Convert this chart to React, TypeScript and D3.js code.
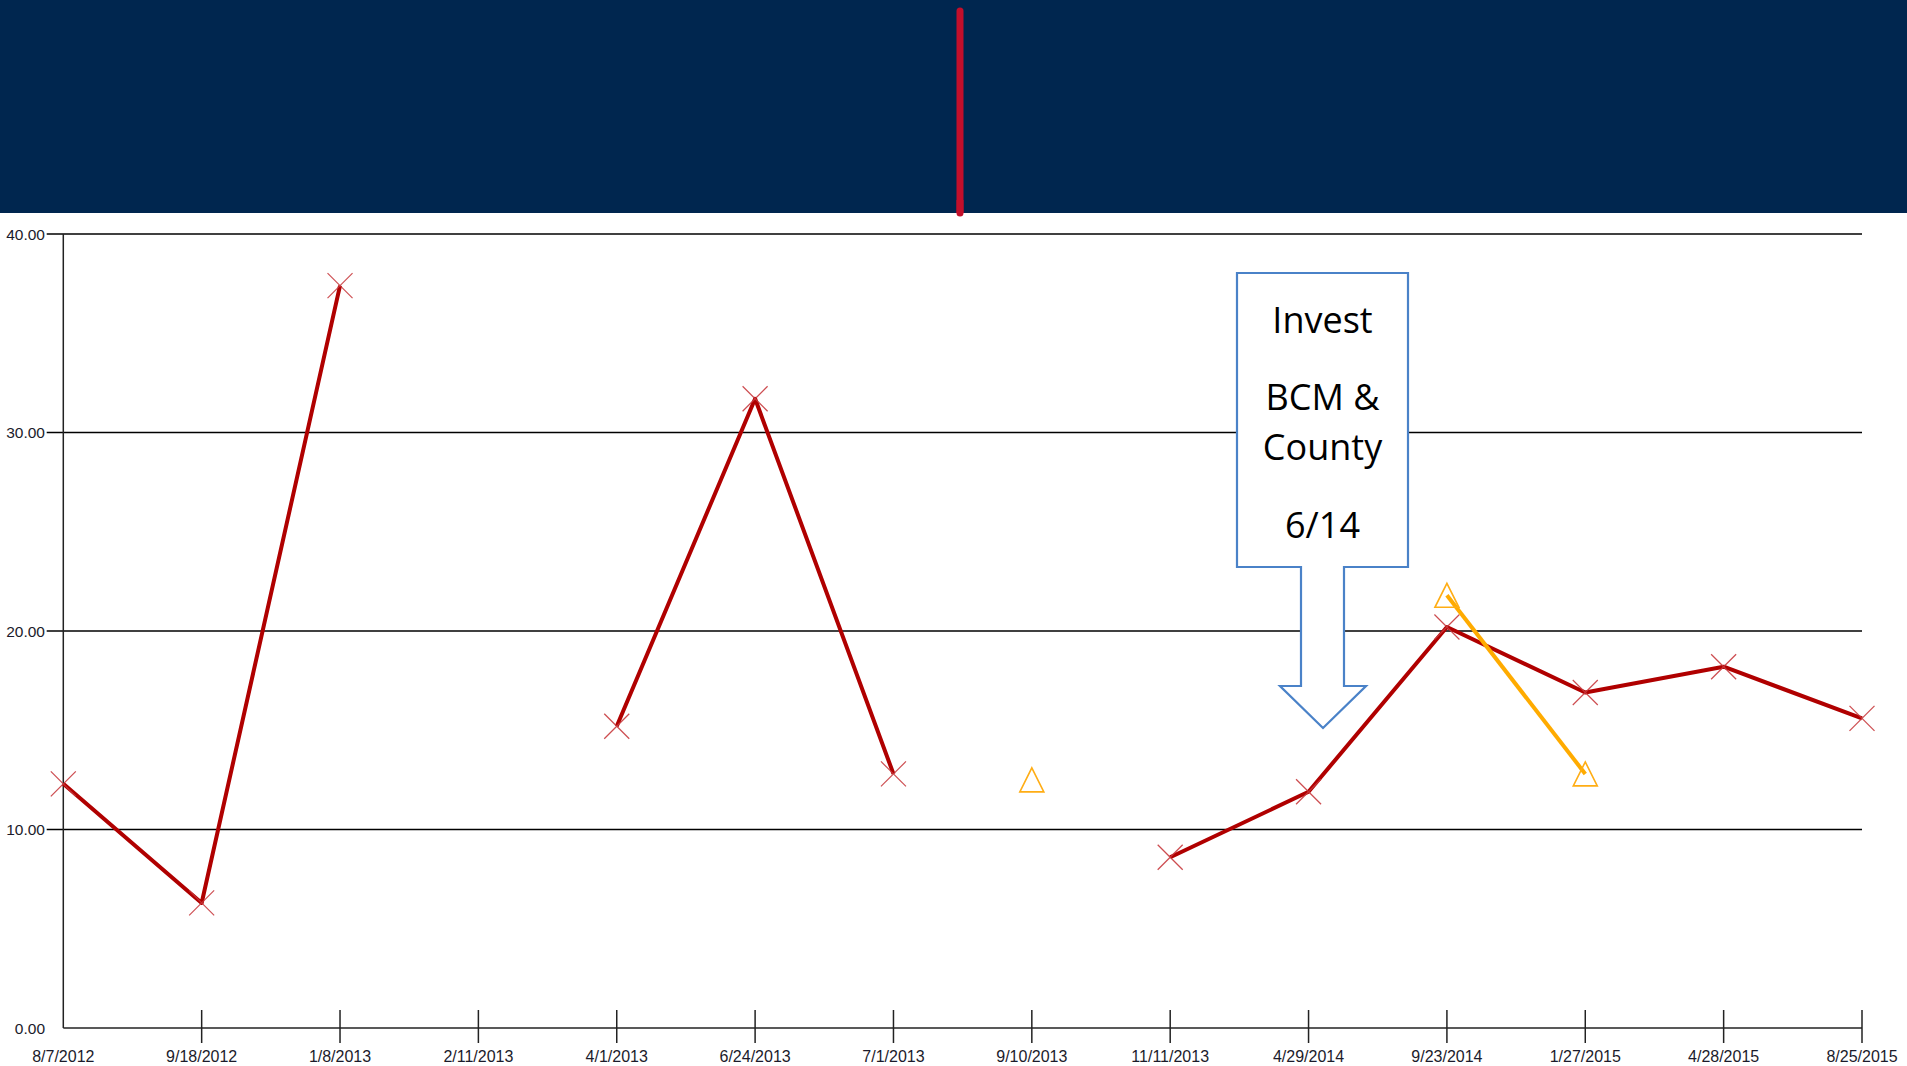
import React from "react";
import * as d3 from "d3";

// Visit dates (categorical x axis)
const categories: string[] = [
  "8/7/2012", "9/18/2012", "1/8/2013", "2/11/2013", "4/1/2013", "6/24/2013", "7/1/2013",
  "9/10/2013", "11/11/2013", "4/29/2014", "9/23/2014", "1/27/2015", "4/28/2015", "8/25/2015",
];

// Main series (dark red line, x markers)
const seriesMain: (number | null)[] = [
  12.3, 6.3, 37.4, null, 15.2, 31.7, 12.8, null, 8.6, 11.9, 20.2, 16.9, 18.2, 15.6,
];

// Secondary series (amber line, triangle markers)
const seriesAlt: (number | null)[] = [
  null, null, null, null, null, null, null, 12.5, null, null, 21.8, 12.8, null, null,
];

const yTicks: number[] = [0, 10, 20, 30, 40];

const calloutLines: string[] = ["Invest", "BCM &", "County", "6/14"];

const W = 1907;
const H = 1066;

export default function App() {
  const x = d3
    .scalePoint<string>()
    .domain(categories)
    .range([63.3, 1862]);
  const y = d3.scaleLinear().domain([0, 40]).range([1028, 234]);

  const line = d3
    .line<number | null>()
    .defined((d) => d != null)
    .x((_, i) => x(categories[i]) as number)
    .y((d) => y(d as number));

  const xs = 12.5; // half-size of x marker
  const tri = 12; // half-size of triangle marker

  // Callout geometry
  const bx0 = 1237, bx1 = 1408, by0 = 273, by1 = 567;
  const sx0 = 1301, sx1 = 1344, hy = 686, hx0 = 1280, hx1 = 1366, tipY = 728;
  const tipX = (hx0 + hx1) / 2;
  const calloutPath = [
    `M${bx0},${by0}`, `L${bx1},${by0}`, `L${bx1},${by1}`, `L${sx1},${by1}`,
    `L${sx1},${hy}`, `L${hx1},${hy}`, `L${tipX},${tipY}`, `L${hx0},${hy}`,
    `L${sx0},${hy}`, `L${sx0},${by1}`, `L${bx0},${by1}`, "Z",
  ].join(" ");
  const calloutBaselines = [332.7, 410, 460, 538];

  return (
    <div style={{ position: "absolute", left: 0, top: 0, width: W, height: H, background: "#fff" }}>
      <svg width={W} height={H} style={{ display: "block" }}>
        {/* header band */}
        <rect x={0} y={0} width={W} height={213} fill="#00264f" />
        <line x1={960} x2={960} y1={11} y2={213} stroke="#c20f2b" strokeWidth={7} strokeLinecap="round" />
        <rect x={956.5} y={200} width={7} height={13} fill="#c20f2b" />

        {/* horizontal gridlines + y labels */}
        {yTicks.map((t) => (
          <g key={t}>
            {t > 0 && (
              <line x1={46.7} x2={1862} y1={y(t)} y2={y(t)} stroke="#000" strokeWidth={1.3} />
            )}
            <text
              x={45}
              y={y(t)}
              dy="0.36em"
              textAnchor="end"
              fontFamily="'Liberation Sans', Arial, sans-serif"
              fontSize={15.5}
              fill="#1b1b2b"
            >
              {t.toFixed(2)}
            </text>
          </g>
        ))}

        {/* axes */}
        <line x1={63.3} x2={63.3} y1={234} y2={1028} stroke="#222" strokeWidth={1.5} />
        <line x1={63.3} x2={1862} y1={1028} y2={1028} stroke="#222" strokeWidth={1.5} />
        {categories.map((c, i) => (
          <g key={c}>
            {i > 0 && (
              <line x1={x(c)} x2={x(c)} y1={1010} y2={1043} stroke="#222" strokeWidth={1.5} />
            )}
            <text
              x={x(c)}
              y={1061.5}
              textAnchor="middle"
              fontFamily="'Liberation Sans', Arial, sans-serif"
              fontSize={16}
              fill="#1b1b2b"
            >
              {c}
            </text>
          </g>
        ))}

        {/* main series */}
        <path d={line(seriesMain) || ""} fill="none" stroke="#b00000" strokeWidth={4} strokeLinejoin="round" />
        {seriesMain.map((v, i) =>
          v == null ? null : (
            <g key={i} stroke="#c8393d" strokeWidth={1.2} opacity={0.9}>
              <line
                x1={(x(categories[i]) as number) - xs}
                y1={y(v) - xs}
                x2={(x(categories[i]) as number) + xs}
                y2={y(v) + xs}
              />
              <line
                x1={(x(categories[i]) as number) - xs}
                y1={y(v) + xs}
                x2={(x(categories[i]) as number) + xs}
                y2={y(v) - xs}
              />
            </g>
          )
        )}

        {/* secondary series */}
        <path d={line(seriesAlt) || ""} fill="none" stroke="#ffab00" strokeWidth={4} strokeLinejoin="round" />
        {seriesAlt.map((v, i) => {
          if (v == null) return null;
          const cx = x(categories[i]) as number;
          const cy = y(v);
          return (
            <path
              key={i}
              d={`M${cx},${cy - tri} L${cx + tri},${cy + tri} L${cx - tri},${cy + tri} Z`}
              fill="none"
              stroke="#ffad14"
              strokeWidth={1.6}
            />
          );
        })}

        {/* callout */}
        <path d={calloutPath} fill="#fff" stroke="#4a82c8" strokeWidth={2.2} strokeLinejoin="miter" />
        {calloutLines.map((t, i) => (
          <text
            key={t}
            x={(bx0 + bx1) / 2}
            y={calloutBaselines[i]}
            textAnchor="middle"
            fontFamily="'Open Sans', sans-serif"
            fontSize={36}
            fill="#000"
          >
            {t}
          </text>
        ))}
      </svg>
    </div>
  );
}
